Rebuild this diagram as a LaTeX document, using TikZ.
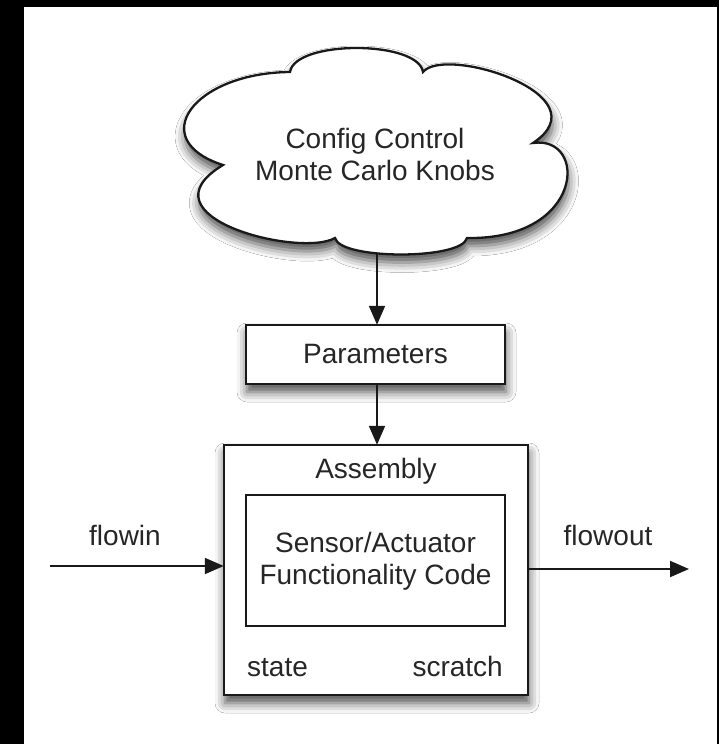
\documentclass[tikz,border=0pt]{standalone}
\usepackage{fontspec}
\setmainfont{Liberation Sans}
\usetikzlibrary{arrows.meta,shadows.blur,calc}
\begin{document}
\begin{tikzpicture}[x=1pt,y=1pt,
  lbl/.style={font=\fontsize{28}{32}\selectfont, inner sep=0pt, text=black!85},
  shad/.style={blur shadow={shadow xshift=1pt, shadow yshift=-8pt, shadow blur radius=10pt, shadow opacity=70}},
  boxed/.style={draw=black!90, line width=2.5pt, fill=white, inner sep=0pt, shad},
  innerbox/.style={draw=black!90, line width=2pt, fill=white, inner sep=0pt},
  arr/.style={draw=black!90, line width=2pt, -{Triangle[length=19pt,width=16pt]}, shorten >=-1pt}
]
\useasboundingbox (0,0) rectangle (719,-744);
\fill[black] (0,0) rectangle (719,-744);
\fill[white] (24,-7) rectangle (716.5,-744);

% cloud
\draw[line width=2.3pt, draw=black!90, fill=white, shad]
  (290,-72) .. controls (295,-40) and (418,-40) .. (423,-72)
  .. controls (445,-45) and (605,-95) .. (533,-143)
  .. controls (588,-135) and (585,-240) .. (467,-238)
  .. controls (462,-260) and (340,-260) .. (335,-238)
  .. controls (300,-258) and (137,-217) .. (223,-165)
  .. controls (145,-140) and (193,-73) .. (290,-72) -- cycle;
\node[lbl, anchor=base, align=center] (cloudtxt) at (375,-180) {Config Control\\Monte Carlo Knobs};
\coordinate (cloudbot) at (377,-254);

% parameters
\node[boxed, minimum width=259pt, minimum height=59pt] (params) at (375.5,-354.5) {};
\node[lbl, anchor=base] (paramstxt) at (375.5,-363) {Parameters};

% assembly
\node[boxed, minimum width=304pt, minimum height=250pt] (asm) at (376,-570) {};
\node[innerbox, minimum width=259pt, minimum height=131pt] (code) at (375.5,-560.5) {};
\node[lbl, anchor=base] (asmtxt) at (376,-478) {Assembly};
\node[lbl, anchor=base, align=center] (codetxt) at (375.5,-584) {Sensor/Actuator\\Functionality Code};
\node[lbl, anchor=base west] (state) at (247,-676) {state};
\node[lbl, anchor=base east] (scratch) at (503,-676) {scratch};

% connectors
\draw[arr] (cloudbot) -- (params.north -| cloudbot);
\draw[arr] (params.south -| cloudbot) -- (asm.north -| cloudbot);
\coordinate (inL) at (50,-566);
\coordinate (outR) at (688,-569);
\draw[arr] (inL) -- (inL -| asm.west);
\draw[arr] (asm.east |- outR) -- (outR);
\node[lbl, anchor=base] (flowin) at (125,-545) {flowin};
\node[lbl, anchor=base] (flowout) at (608,-545) {flowout};
\end{tikzpicture}
\end{document}
